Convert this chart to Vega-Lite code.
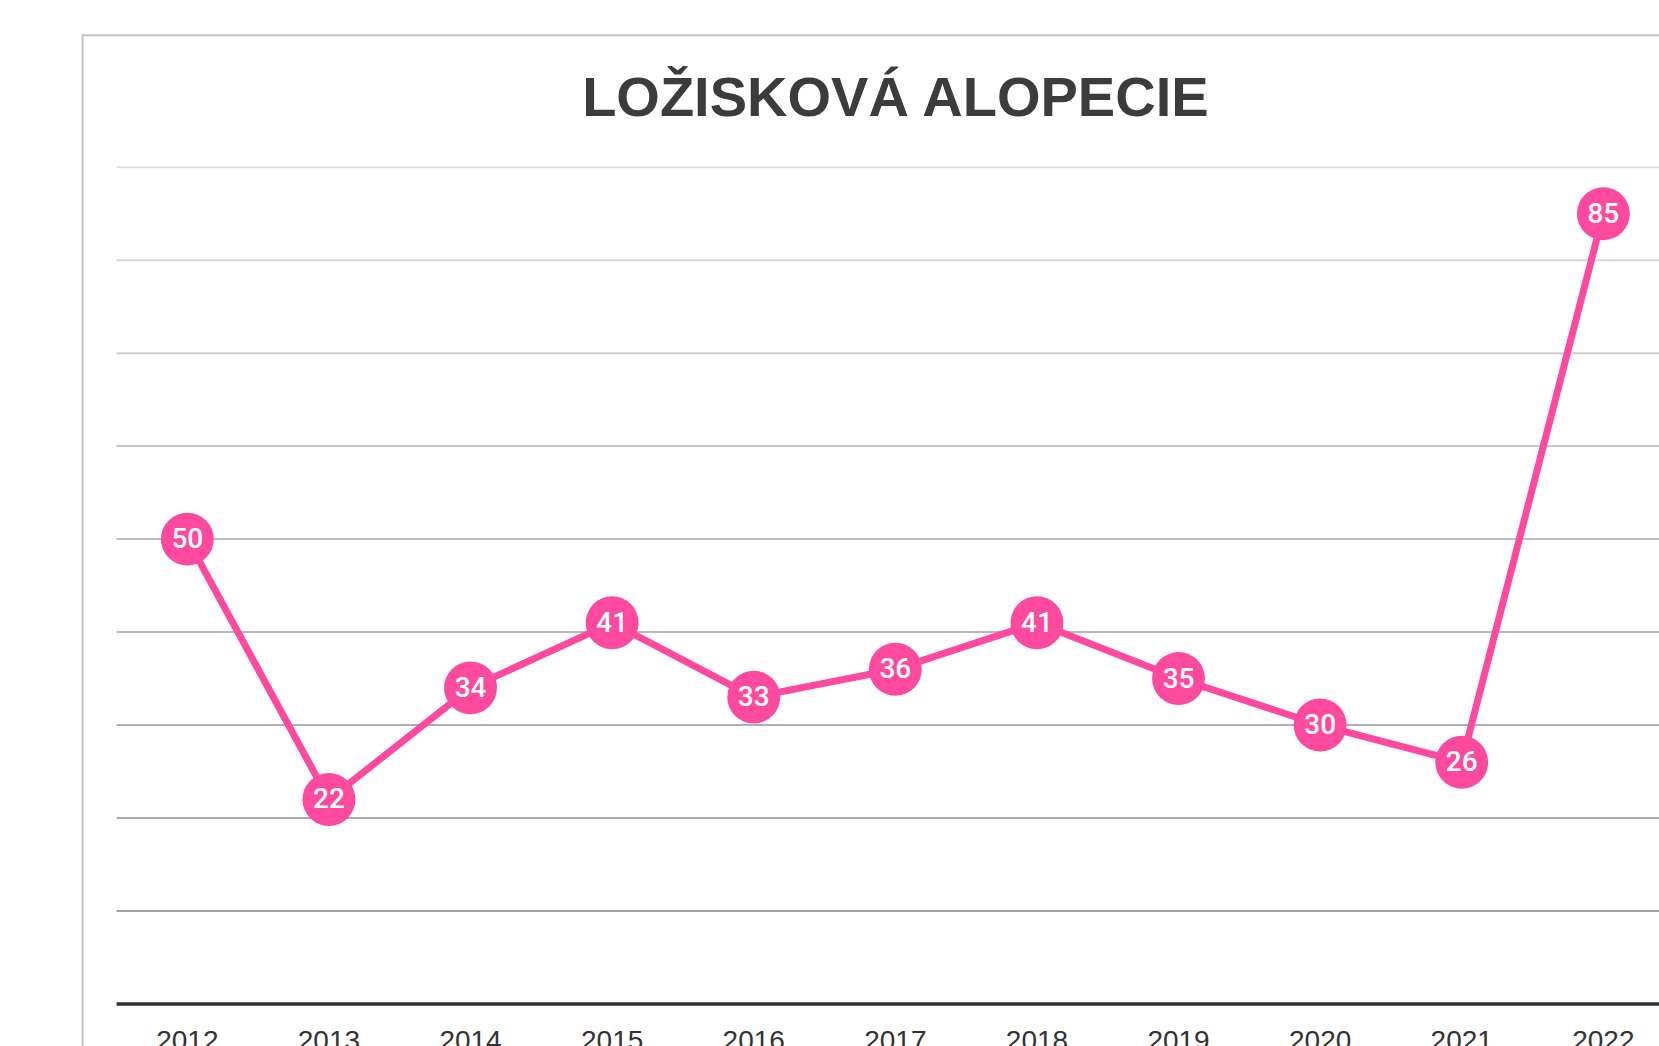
{
  "$schema": "https://vega.github.io/schema/vega-lite/v6.json",
  "width": 1659,
  "height": 1046,
  "autosize": {"type": "fit", "contains": "padding"},
  "padding": 0,
  "background": "white",
  "config": {"view": {"stroke": null}},
  "datasets": {
    "series": [
      {"year": 2012, "value": 50},
      {"year": 2013, "value": 22},
      {"year": 2014, "value": 34},
      {"year": 2015, "value": 41},
      {"year": 2016, "value": 33},
      {"year": 2017, "value": 36},
      {"year": 2018, "value": 41},
      {"year": 2019, "value": 35},
      {"year": 2020, "value": 30},
      {"year": 2021, "value": 26},
      {"year": 2022, "value": 85}
    ],
    "grid": [
      {"level": 10}, {"level": 20}, {"level": 30}, {"level": 40}, {"level": 50},
      {"level": 60}, {"level": 70}, {"level": 80}, {"level": 90}
    ],
    "one": [{"label": "LOŽISKOVÁ ALOPECIE"}]
  },
  "encoding": {
    "x": {"type": "quantitative", "scale": {"domain": [2010.677, 2022.393], "nice": false, "zero": false}, "axis": null},
    "y": {"type": "quantitative", "scale": {"domain": [-4.517, 107.98], "nice": false, "zero": false}, "axis": null}
  },
  "layer": [
    {
      "data": {"name": "one"},
      "mark": {"type": "rect", "fill": null, "fillOpacity": 0, "stroke": "#c4c4c4", "strokeWidth": 2, "clip": true},
      "encoding": {
        "x": {"datum": 2011.26},
        "x2": {"datum": 2025},
        "y": {"datum": 104.2},
        "y2": {"datum": -10}
      }
    },
    {
      "data": {"name": "grid"},
      "mark": {"type": "rule", "strokeWidth": 2, "clip": true},
      "encoding": {
        "x": {"datum": 2011.5},
        "x2": {"datum": 2025},
        "y": {"field": "level", "type": "quantitative"},
        "color": {"field": "level", "type": "quantitative", "scale": {"domain": [10, 90], "range": ["#a2a2a2", "#dddddd"]}, "legend": null}
      }
    },
    {
      "data": {"name": "one"},
      "mark": {"type": "rule", "stroke": "#303030", "strokeWidth": 3.5, "clip": true},
      "encoding": {
        "x": {"datum": 2011.5},
        "x2": {"datum": 2025},
        "y": {"datum": 0}
      }
    },
    {
      "data": {"name": "one"},
      "mark": {"type": "text", "font": "Liberation Sans", "fontSize": 56, "fontWeight": "bold", "color": "#3c3c3c", "align": "center", "baseline": "alphabetic"},
      "encoding": {
        "x": {"datum": 2017},
        "y": {"datum": 95.55},
        "text": {"field": "label"}
      }
    },
    {
      "data": {"name": "series"},
      "mark": {"type": "text", "font": "Liberation Sans", "fontSize": 28, "color": "#333333", "align": "center", "baseline": "alphabetic", "clip": true},
      "encoding": {
        "x": {"field": "year"},
        "y": {"datum": -4.9},
        "text": {"field": "year", "type": "nominal"}
      }
    },
    {
      "data": {"name": "series"},
      "mark": {"type": "line", "color": "#fd4a9f", "strokeWidth": 7},
      "encoding": {
        "x": {"field": "year"},
        "y": {"field": "value"}
      }
    },
    {
      "data": {"name": "series"},
      "mark": {"type": "circle", "color": "#fd4a9f", "opacity": 1, "size": 2800},
      "encoding": {
        "x": {"field": "year"},
        "y": {"field": "value"}
      }
    },
    {
      "data": {"name": "series"},
      "mark": {"type": "text", "font": "Roboto", "fontSize": 28, "fontWeight": 500, "color": "white", "align": "center", "baseline": "middle", "dy": 1},
      "encoding": {
        "x": {"field": "year"},
        "y": {"field": "value"},
        "text": {"field": "value", "type": "quantitative"}
      }
    }
  ]
}
